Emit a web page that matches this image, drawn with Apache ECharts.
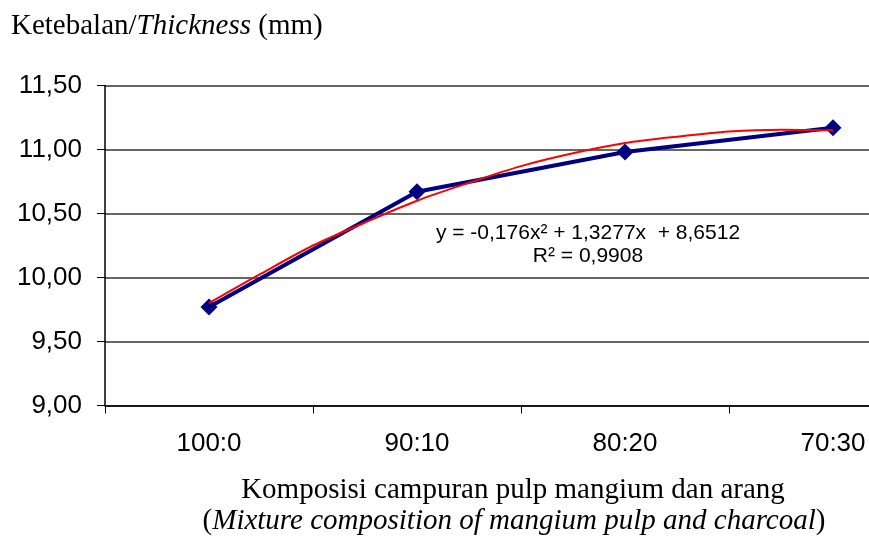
<!DOCTYPE html>
<html>
<head>
<meta charset="utf-8">
<script src="https://cdn.jsdelivr.net/npm/echarts@6/dist/echarts.min.js"></script>
<style>html,body{margin:0;padding:0;background:#fff;}#c{width:869px;height:539px;}</style>
</head>
<body>
<div id="c"></div>
<script>
var categories = ['100:0', '90:10', '80:20', '70:30'];
var thickness = [9.77, 10.67, 10.98, 11.17];
var trendX = [1, 1.25, 1.5, 1.75, 2, 2.25, 2.5, 2.75, 3, 3.25, 3.5, 3.75, 4];
var trendY = [9.80, 10.03, 10.25, 10.43, 10.60, 10.74, 10.87, 10.97, 11.05, 11.10, 11.14, 11.155, 11.15];
var yTickLabels = ['9,00', '9,50', '10,00', '10,50', '11,00', '11,50'];
var equationText = ['y = -0,176x\u00b2 + 1,3277x  + 8,6512', 'R\u00b2 = 0,9908'];

var chart = echarts.init(document.getElementById('c'), null, {renderer: 'canvas'});
var sans = 'Liberation Sans, Arial, sans-serif';
var serif = 'Liberation Serif, Times New Roman, serif';

var trendData = trendX.map(function (x, i) { return [x, trendY[i]]; });

chart.setOption({
  animation: false,
  backgroundColor: '#ffffff',
  grid: {left: 105, top: 85.5, width: 832, height: 320, containLabel: false, outerBoundsMode: 'none'},
  xAxis: [{
    type: 'category',
    data: categories,
    boundaryGap: true,
    axisLine: {lineStyle: {color: '#000', width: 1.5}},
    axisTick: {show: true, length: 8, lineStyle: {color: '#000', width: 1}},
    axisLabel: {color: '#000', fontFamily: sans, fontSize: 26, margin: 25},
    splitLine: {show: false}
  }, {
    type: 'value',
    min: 0.5,
    max: 4.5,
    show: false
  }],
  yAxis: {
    type: 'value',
    min: 9,
    max: 11.5,
    interval: 0.5,
    axisLine: {show: true, lineStyle: {color: '#000', width: 1.5}},
    axisTick: {show: true, length: 8, lineStyle: {color: '#000', width: 1}},
    axisLabel: {
      color: '#000', fontFamily: sans, fontSize: 26, margin: 23,
      formatter: function (v) { return yTickLabels[Math.round((v - 9) / 0.5)]; }
    },
    splitLine: {show: true, lineStyle: {color: '#666', width: 2}}
  },
  series: [{
    type: 'line',
    xAxisIndex: 0,
    data: thickness,
    symbol: 'diamond',
    symbolSize: 17,
    lineStyle: {color: '#000080', width: 4},
    itemStyle: {color: '#000080'},
    z: 2
  }, {
    type: 'line',
    xAxisIndex: 1,
    data: trendData,
    smooth: 0.3,
    showSymbol: false,
    symbol: 'none',
    lineStyle: {color: '#ff0000', width: 2},
    z: 3
  }],
  graphic: [{
    type: 'text', x: 11, y: 26,
    style: {
      text: '{n|Ketebalan/}{i|Thickness}{n| (mm)}',
      textVerticalAlign: 'middle', textAlign: 'left',
      rich: {
        n: {fontFamily: serif, fontSize: 29, color: '#000'},
        i: {fontFamily: serif, fontSize: 29, fontStyle: 'italic', color: '#000'}
      }
    }
  }, {
    type: 'text', x: 513, y: 490,
    style: {
      text: 'Komposisi campuran pulp mangium dan arang',
      font: '29px ' + serif, fill: '#000',
      textAlign: 'center', textVerticalAlign: 'middle'
    }
  }, {
    type: 'text', x: 514, y: 521,
    style: {
      text: '{n|(}{i|Mixture composition of mangium pulp and charcoal}{n|)}',
      textAlign: 'center', textVerticalAlign: 'middle',
      rich: {
        n: {fontFamily: serif, fontSize: 29, color: '#000'},
        i: {fontFamily: serif, fontSize: 29, fontStyle: 'italic', color: '#000'}
      }
    }
  }, {
    type: 'text', x: 588, y: 233,
    style: {
      text: equationText[0], font: '21px ' + sans, fill: '#000',
      textAlign: 'center', textVerticalAlign: 'middle'
    }
  }, {
    type: 'text', x: 588, y: 256,
    style: {
      text: equationText[1], font: '21px ' + sans, fill: '#000',
      textAlign: 'center', textVerticalAlign: 'middle'
    }
  }]
});
</script>
</body>
</html>
